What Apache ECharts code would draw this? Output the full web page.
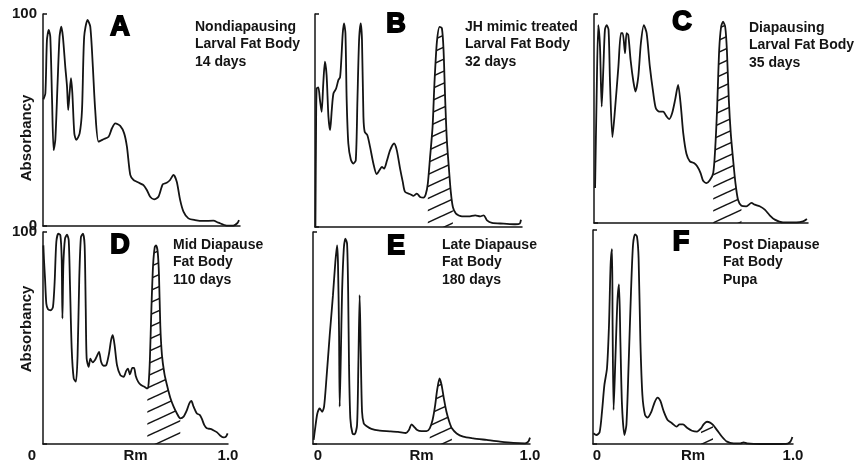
<!DOCTYPE html>
<html>
<head>
<meta charset="utf-8">
<script src="https://cdn.jsdelivr.net/npm/echarts@6/dist/echarts.min.js"></script>
<style>
  html, body { margin: 0; padding: 0; background: #fff; }
  #chart { width: 868px; height: 466px; }
</style>
</head>
<body>
<div id="chart"></div>
<script>
// densitometer traces, [Rm, absorbancy]
const panelLetters = ['A', 'B', 'C', 'D', 'E', 'F'];
const panelTitles = [
  ['Nondiapausing', 'Larval Fat Body', '14 days'],
  ['JH mimic treated', 'Larval Fat Body', '32 days'],
  ['Diapausing', 'Larval Fat Body', '35 days'],
  ['Mid Diapause', 'Fat Body', '110 days'],
  ['Late Diapause', 'Fat Body', '180 days'],
  ['Post Diapause', 'Fat Body', 'Pupa']
];
const yName = 'Absorbancy';
const yTickLabels = ['0', '100'];
const xTickLabels = ['0', 'Rm', '1.0'];

const traceA = [[0.002,59.7],[0.012,62.6],[0.020,87.7],[0.029,92.5],[0.037,89.3],[0.046,59.4],[0.054,35.8],[0.0625,40.6],[0.074,67.3],[0.084,89.3],[0.093,94.0],[0.101,89.3],[0.113,75.2],[0.122,65.7],[0.128,54.7],[0.135,62.6],[0.142,69.7],[0.149,62.6],[0.159,43.7],[0.169,40.6],[0.186,43.7],[0.198,54.7],[0.209,89.3],[0.226,97.2],[0.240,94.0],[0.253,75.2],[0.265,54.7],[0.282,39.8],[0.307,40.9],[0.333,42.1],[0.350,46.1],[0.367,48.4],[0.392,47.2],[0.412,43.7],[0.426,37.4],[0.443,24.1],[0.459,21.7],[0.476,20.9],[0.493,20.1],[0.510,19.3],[0.527,17.0],[0.544,13.8],[0.564,12.6],[0.586,13.8],[0.608,19.7],[0.628,20.4],[0.645,21.7],[0.662,24.1],[0.679,20.9],[0.696,12.3],[0.713,6.8],[0.738,3.6],[0.772,2.8],[0.814,2.4],[0.865,2.5],[0.890,1.6],[0.932,0.2],[0.966,0.2],[0.986,1.3],[0.995,2.8]];

const traceB = [[0.002,0],[0.005,43.9],[0.008,65.0],[0.016,65.5],[0.024,59.6],[0.032,54.1],[0.040,67.4],[0.048,77.6],[0.056,71.3],[0.065,51.7],[0.073,45.5],[0.081,54.9],[0.089,62.7],[0.102,65.0],[0.113,69.0],[0.121,70.2],[0.127,78.4],[0.134,90.9],[0.140,95.6],[0.147,90.9],[0.153,59.6],[0.161,39.2],[0.173,31.7],[0.185,29.8],[0.197,31.3],[0.205,59.6],[0.213,87.8],[0.221,95.6],[0.227,87.8],[0.234,51.7],[0.240,44.7],[0.253,43.1],[0.266,37.6],[0.282,29.8],[0.298,24.8],[0.311,26.6],[0.323,28.2],[0.334,27.4],[0.347,31.0],[0.363,36.1],[0.382,39.2],[0.395,36.1],[0.411,27.4],[0.424,21.2],[0.435,16.5],[0.460,15.4],[0.476,14.6],[0.492,15.7],[0.508,14.1],[0.524,13.8],[0.535,15.4],[0.545,20.4],[0.556,32.9],[0.568,47.0],[0.577,67.4],[0.589,87.0],[0.602,94.0],[0.613,93.3],[0.621,83.1],[0.629,59.6],[0.637,40.8],[0.647,27.4],[0.656,16.5],[0.666,9.4],[0.681,6.3],[0.710,5.0],[0.742,5.0],[0.774,5.5],[0.798,5.0],[0.815,5.5],[0.831,3.1],[0.855,1.9],[0.911,1.6],[0.968,1.3],[0.989,1.6],[0.995,3.4]];

const traceC = [[0.005,16.7],[0.012,58.9],[0.020,94.7],[0.028,84.4],[0.036,55.7],[0.044,74.8],[0.051,92.4],[0.059,94.7],[0.068,92.4],[0.075,66.9],[0.086,41.1],[0.098,54.1],[0.114,74.8],[0.126,90.8],[0.134,90.8],[0.145,81.2],[0.152,90.8],[0.160,90.0],[0.171,78.0],[0.184,67.7],[0.194,62.9],[0.207,70.1],[0.219,86.0],[0.233,94.7],[0.246,90.8],[0.261,74.8],[0.277,62.1],[0.289,54.9],[0.305,53.3],[0.323,53.3],[0.339,51.0],[0.351,49.7],[0.365,52.5],[0.379,58.9],[0.393,66.1],[0.406,55.7],[0.417,43.0],[0.432,33.1],[0.448,29.5],[0.467,28.7],[0.482,27.1],[0.498,23.9],[0.510,20.2],[0.526,19.1],[0.541,20.4],[0.557,23.9],[0.566,35.0],[0.575,54.1],[0.585,82.8],[0.594,93.9],[0.603,96.3],[0.613,93.9],[0.621,82.8],[0.630,58.9],[0.639,43.0],[0.650,30.3],[0.661,19.1],[0.673,11.1],[0.689,8.3],[0.712,8.0],[0.736,9.6],[0.751,8.8],[0.774,8.0],[0.798,6.4],[0.821,3.7],[0.845,1.6],[0.883,0.3],[0.946,0.3],[0.977,0.8],[0.995,1.9]];

const traceD = [[0.002,93.7],[0.005,87.4],[0.011,78.0],[0.018,66.2],[0.027,63.6],[0.043,63.1],[0.054,64.7],[0.063,76.5],[0.072,95.3],[0.083,99.2],[0.094,98.4],[0.101,87.4],[0.105,59.2],[0.110,84.3],[0.119,96.9],[0.130,98.7],[0.139,96.1],[0.146,74.9],[0.155,45.1],[0.166,30.9],[0.178,29.4],[0.187,41.9],[0.196,78.0],[0.205,97.6],[0.216,99.2],[0.225,93.7],[0.231,63.9],[0.236,40.3],[0.247,36.4],[0.256,40.3],[0.268,38.5],[0.281,39.6],[0.292,41.6],[0.303,43.5],[0.314,38.8],[0.328,36.9],[0.342,37.2],[0.357,42.7],[0.368,49.0],[0.377,51.3],[0.387,46.6],[0.400,37.2],[0.418,32.5],[0.436,31.7],[0.449,34.4],[0.459,35.6],[0.470,32.8],[0.483,35.9],[0.492,35.9],[0.501,32.2],[0.514,29.4],[0.530,27.8],[0.548,27.0],[0.564,26.2],[0.571,28.6],[0.578,40.3],[0.586,63.9],[0.595,84.3],[0.604,92.9],[0.611,93.7],[0.620,90.6],[0.627,79.6],[0.634,56.0],[0.643,41.9],[0.656,33.3],[0.670,27.8],[0.688,21.8],[0.706,17.6],[0.724,14.4],[0.742,12.1],[0.760,12.9],[0.778,16.0],[0.791,19.2],[0.802,20.3],[0.814,17.6],[0.832,14.4],[0.847,13.7],[0.859,11.8],[0.872,8.9],[0.886,7.4],[0.905,7.1],[0.923,6.4],[0.941,5.5],[0.959,3.9],[0.977,3.1],[0.989,3.5],[0.998,5.0]];

const traceE = [[0.003,1.9],[0.011,8.2],[0.020,14.4],[0.031,16.8],[0.042,15.2],[0.051,17.6],[0.062,30.9],[0.077,51.3],[0.092,70.2],[0.103,85.9],[0.111,93.7],[0.115,85.9],[0.120,52.9],[0.123,17.6],[0.128,40.3],[0.134,71.7],[0.142,92.2],[0.149,96.9],[0.157,94.5],[0.162,71.7],[0.166,37.2],[0.172,12.1],[0.182,5.0],[0.192,4.6],[0.203,8.9],[0.209,37.2],[0.215,70.2],[0.220,43.5],[0.226,15.2],[0.234,9.7],[0.246,8.5],[0.269,7.1],[0.308,6.3],[0.354,6.0],[0.392,5.7],[0.428,5.2],[0.442,6.6],[0.454,9.3],[0.465,8.2],[0.480,6.6],[0.500,6.1],[0.523,6.1],[0.538,7.4],[0.551,11.3],[0.562,17.6],[0.572,25.4],[0.583,30.9],[0.592,28.1],[0.603,21.5],[0.615,15.2],[0.628,10.5],[0.640,7.4],[0.662,5.0],[0.692,3.5],[0.738,2.7],[0.800,1.9],[0.862,1.1],[0.923,0.5],[0.977,0.3],[0.992,1.1],[1.0,3.0]];

const traceF = [[0.002,5.0],[0.017,4.2],[0.033,5.5],[0.045,15.1],[0.057,27.6],[0.070,35.4],[0.080,55.6],[0.088,83.6],[0.095,91.1],[0.098,55.6],[0.103,15.9],[0.112,40.0],[0.122,66.5],[0.130,74.6],[0.137,47.8],[0.145,18.2],[0.157,4.2],[0.167,8.9],[0.178,36.9],[0.190,71.2],[0.200,93.0],[0.210,98.0],[0.220,96.9],[0.228,86.8],[0.237,47.8],[0.247,22.9],[0.260,13.6],[0.273,12.3],[0.292,15.1],[0.308,19.5],[0.323,21.7],[0.337,20.1],[0.353,15.4],[0.373,11.2],[0.395,9.7],[0.417,8.1],[0.433,9.2],[0.450,9.2],[0.470,7.6],[0.495,6.2],[0.520,5.8],[0.540,7.3],[0.553,9.2],[0.570,10.4],[0.583,10.1],[0.600,8.9],[0.620,6.5],[0.645,3.4],[0.670,1.1],[0.703,0.3],[0.737,0.3],[0.753,0.8],[0.770,0.3],[0.837,0],[0.920,0],[0.973,0.2],[0.987,1.1],[0.997,3.3]];

const traces = [traceA, traceB, traceC, traceD, traceE, traceF];
// Rm range of the hatched band in each panel
const hatchRanges = [null, [0.544, 0.666], [0.557, 0.689], [0.564, 0.742], [0.538, 0.640], [0.530, 0.600]];

// layout (px)
const grids = [
  { left: 43, top: 14, width: 197, height: 212 },
  { left: 315, top: 14, width: 207, height: 213 },
  { left: 594, top: 14, width: 214, height: 209 },
  { left: 43, top: 232, width: 185, height: 212 },
  { left: 313, top: 232, width: 217, height: 212 },
  { left: 593, top: 230, width: 200, height: 214 }
];
const letterPos = [[120, 28], [396, 25], [682, 23], [120, 246], [396, 247], [681, 243]];
const titlePos = [[195, 18], [465, 18], [749, 19], [173, 236], [442, 236], [723, 236]];
const zeroShift = [0, 0, 0, -11, 5, 4];

const ink = '#141414';
const font = '"Liberation Sans", Arial, sans-serif';

function hatchPattern() {
  const w = 26, h = 12;
  const c = document.createElement('canvas');
  c.width = w; c.height = h;
  const g = c.getContext('2d');
  g.strokeStyle = ink;
  g.lineWidth = 1.5;
  for (let k = -1; k <= 1; k++) {
    g.beginPath();
    g.moveTo(-w, 2 * h + k * h);
    g.lineTo(2 * w, -h + k * h);
    g.stroke();
  }
  return c;
}
const hatch = { image: hatchPattern(), repeat: 'repeat' };

const xAxes = [], yAxes = [], series = [], graphics = [];

grids.forEach(function (gd, i) {
  const bottomRow = i >= 3;
  const s = zeroShift[i];
  xAxes.push({
    type: 'value', gridIndex: i, min: 0, max: 1, interval: 0.5,
    axisLine: { show: true, lineStyle: { color: ink, width: 1.5 } },
    axisTick: { show: false },
    splitLine: { show: false },
    axisLabel: {
      show: bottomRow, margin: 4, color: ink,
      fontFamily: font, fontSize: 15, fontWeight: 'bold',
      formatter: function (v) {
        if (v === 0) return '{z|' + xTickLabels[0] + '}';
        return v === 1 ? xTickLabels[2] : xTickLabels[1];
      },
      rich: {
        z: {
          fontFamily: font, fontSize: 15, fontWeight: 'bold', color: ink,
          padding: s < 0 ? [0, -2 * s, 0, 0] : [0, 0, 0, 2 * s]
        }
      }
    }
  });
  yAxes.push({
    type: 'value', gridIndex: i, min: 0, max: 100, interval: 100,
    axisLine: { show: true, lineStyle: { color: ink, width: 1.5 } },
    axisTick: { show: true, inside: true, length: 4, lineStyle: { color: ink, width: 1.5 } },
    splitLine: { show: false },
    axisLabel: {
      show: i === 0 || i === 3, margin: 6, color: ink,
      fontFamily: font, fontSize: 15, fontWeight: 'bold',
      formatter: function (v) {
        if (v === 100) return yTickLabels[1];
        return i === 0 ? yTickLabels[0] : '';
      }
    }
  });
  series.push({
    type: 'line', xAxisIndex: i, yAxisIndex: i,
    data: traces[i], showSymbol: false, symbol: 'none', smooth: 0.25,
    lineStyle: { color: ink, width: 1.8 }, z: 3, silent: true
  });
  if (hatchRanges[i]) {
    const r = hatchRanges[i];
    series.push({
      type: 'line', xAxisIndex: i, yAxisIndex: i,
      data: traces[i].filter(function (p) { return p[0] >= r[0] && p[0] <= r[1]; }),
      showSymbol: false, symbol: 'none', smooth: 0.25,
      lineStyle: { width: 0, opacity: 0 },
      areaStyle: { color: hatch, opacity: 1 }, z: 2, silent: true
    });
  }
  graphics.push({
    type: 'text', x: letterPos[i][0], y: letterPos[i][1],
    style: {
      text: panelLetters[i], fill: '#000', stroke: '#000', lineWidth: 1.8,
      font: 'bold 27px ' + font, align: 'center', verticalAlign: 'middle'
    }
  });
  graphics.push({
    type: 'text', x: titlePos[i][0], y: titlePos[i][1],
    style: {
      text: panelTitles[i].join('\n'), fill: ink,
      font: 'bold 14px ' + font, lineHeight: 17.5, align: 'left', verticalAlign: 'top'
    }
  });
  if (i === 0 || i === 3) {
    graphics.push({
      type: 'text', x: 27, y: i === 0 ? 138 : 329, rotation: Math.PI / 2,
      style: {
        text: yName, fill: ink, font: 'bold 15px ' + font,
        align: 'center', verticalAlign: 'middle'
      }
    });
  }
});

const chart = echarts.init(document.getElementById('chart'));
chart.setOption({
  backgroundColor: '#fff',
  animation: false,
  grid: grids,
  xAxis: xAxes,
  yAxis: yAxes,
  series: series,
  graphic: graphics
});
</script>
</body>
</html>
